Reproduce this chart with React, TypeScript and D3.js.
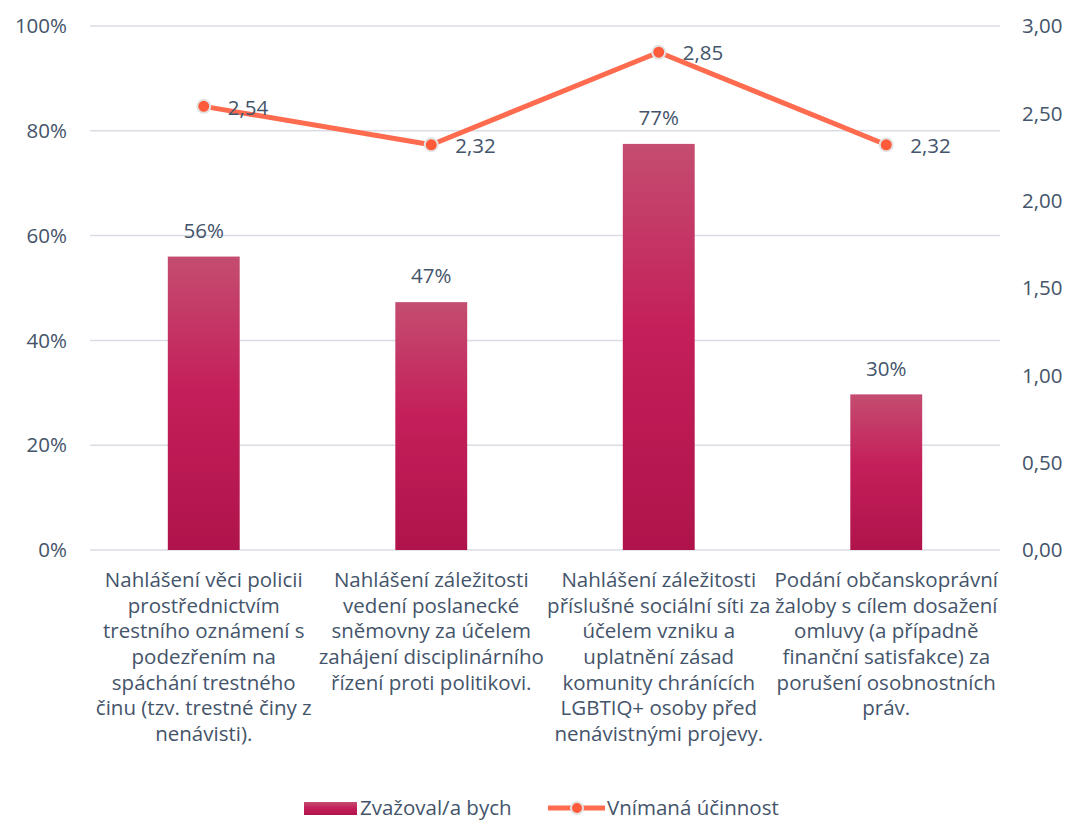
import React from "react";
import * as d3 from "d3";

const categories: string[][] = [
  ["Nahlášení věci policii", "prostřednictvím", "trestního oznámení s", "podezřením na", "spáchání trestného", "činu (tzv. trestné činy z", "nenávisti)."],
  ["Nahlášení záležitosti", "vedení poslanecké", "sněmovny za účelem", "zahájení disciplinárního", "řízení proti politikovi."],
  ["Nahlášení záležitosti", "příslušné sociální síti za", "účelem vzniku a", "uplatnění zásad", "komunity chránících", "LGBTIQ+ osoby před", "nenávistnými projevy."],
  ["Podání občanskoprávní", "žaloby s cílem dosažení", "omluvy (a případně", "finanční satisfakce) za", "porušení osobnostních", "práv."],
];
const barValues = [0.56, 0.473, 0.775, 0.297];
const barLabels = ["56%", "47%", "77%", "30%"];
const lineValues = [2.54, 2.32, 2.85, 2.32];
const lineLabels = ["2,54", "2,32", "2,85", "2,32"];
const leftTicks = [0, 0.2, 0.4, 0.6, 0.8, 1.0];
const leftTickLabels = ["0%", "20%", "40%", "60%", "80%", "100%"];
const rightTicks = [0, 0.5, 1, 1.5, 2, 2.5, 3];
const rightTickLabels = ["0,00", "0,50", "1,00", "1,50", "2,00", "2,50", "3,00"];
const seriesNames = ["Zvažoval/a bych", "Vnímaná účinnost"];

const W = 1071, H = 821;
const left = 90, right = 1000, top = 26, bottom = 550;
const textColor = "#44546a";
const font = "'Open Sans', sans-serif";
const fs = 20.5;

export default function App() {
  const x = d3.scaleBand<number>().domain(d3.range(categories.length)).range([left, right]).paddingInner(0).paddingOuter(0);
  const yL = d3.scaleLinear().domain([0, 1]).range([bottom, top]);
  const yR = d3.scaleLinear().domain([0, 3]).range([bottom, top]);
  const barW = x.bandwidth() * 0.316;
  const cx = (i: number) => (x(i) as number) + x.bandwidth() / 2;
  const line = d3.line<number>().x((_, i) => cx(i)).y((d) => yR(d));

  return (
    <svg width={W} height={H} style={{ position: "absolute", left: 0, top: 0, background: "#fff" }} fontFamily={font}>
      <defs>
        <linearGradient id="barGrad" x1="0" y1="0" x2="0" y2="1">
          <stop offset="0" stopColor="#c44d70" />
          <stop offset="0.45" stopColor="#c41f5a" />
          <stop offset="1" stopColor="#b0134b" />
        </linearGradient>
      </defs>
      <rect width={W} height={H} fill="#fff" />
      {leftTicks.map((t, i) => (
        <g key={i}>
          <line x1={left} x2={right} y1={yL(t)} y2={yL(t)} stroke="#d9dde3" strokeWidth={1.5} />
          <text x={67} y={yL(t)} dy="0.35em" textAnchor="end" fontSize={fs} fill={textColor}>{leftTickLabels[i]}</text>
        </g>
      ))}
      {rightTicks.map((t, i) => (
        <text key={i} x={1022} y={yR(t)} dy="0.35em" fontSize={fs} fill={textColor}>{rightTickLabels[i]}</text>
      ))}
      {barValues.map((v, i) => (
        <g key={i}>
          <rect x={cx(i) - barW / 2} y={yL(v)} width={barW} height={bottom - yL(v)} fill="url(#barGrad)" />
          <text x={cx(i)} y={yL(v) - 26} dy="0.35em" textAnchor="middle" fontSize={fs} fill={textColor}>{barLabels[i]}</text>
        </g>
      ))}
      <path d={line(lineValues) || ""} fill="none" stroke="#ff6b4f" strokeWidth={5} strokeLinejoin="round" />
      {lineValues.map((v, i) => (
        <g key={i}>
          <circle cx={cx(i)} cy={yR(v)} r={6.5} fill="#ff5b3a" stroke="#e3e3e3" strokeWidth={2} />
          <text x={cx(i) + 24} y={yR(v) + 1} dy="0.35em" fontSize={fs} fill={textColor}>{lineLabels[i]}</text>
        </g>
      ))}
      {categories.map((lines, i) => (
        <text key={i} x={cx(i)} textAnchor="middle" fontSize={fs} fill={textColor}>
          {lines.map((l, j) => (
            <tspan key={j} x={cx(i)} y={580 + j * 25.6} dy="0.35em">{l}</tspan>
          ))}
        </text>
      ))}
      <g>
        <rect x={304} y={802} width={53} height={13} fill="url(#barGrad)" />
        <text x={360} y={808} dy="0.35em" fontSize={fs} fill={textColor}>{seriesNames[0]}</text>
        <line x1={548} x2={605} y1={808} y2={808} stroke="#ff6b4f" strokeWidth={5} />
        <circle cx={577} cy={808} r={6} fill="#ff5b3a" stroke="#e3e3e3" strokeWidth={2} />
        <text x={607} y={808} dy="0.35em" fontSize={fs} fill={textColor}>{seriesNames[1]}</text>
      </g>
    </svg>
  );
}
